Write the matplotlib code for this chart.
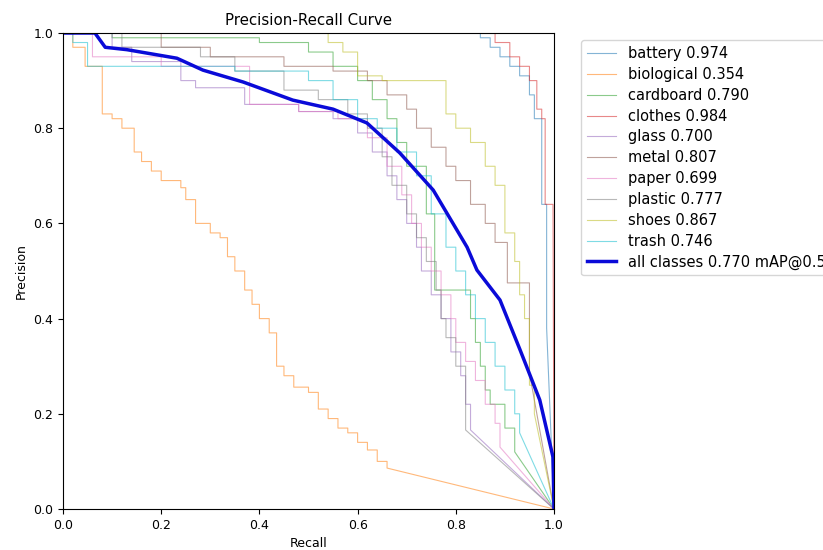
import matplotlib
matplotlib.use('Agg')
import matplotlib.pyplot as plt
import numpy as np

# per-class PR curves: recall knots and precision held until the next knot
names = ['battery', 'biological', 'cardboard', 'clothes', 'glass',
         'metal', 'paper', 'plastic', 'shoes', 'trash']
ap = [0.974, 0.354, 0.790, 0.984, 0.700, 0.807, 0.699, 0.777, 0.867, 0.746]

battery_r = [0, 0.85, 0.87, 0.89, 0.91, 0.93, 0.95, 0.96, 0.975, 0.985]
battery_p = [1, 0.99, 0.97, 0.95, 0.93, 0.91, 0.87, 0.82, 0.64, 0.38]

biological_r = [0, 0.02, 0.045, 0.08, 0.10, 0.12, 0.145, 0.16, 0.18, 0.20, 0.24, 0.25,
                0.27, 0.30, 0.32, 0.335, 0.35, 0.37, 0.385, 0.40, 0.42, 0.435, 0.45,
                0.47, 0.50, 0.52, 0.54, 0.56, 0.58, 0.60, 0.62, 0.64, 0.66]
biological_p = [1, 0.97, 0.93, 0.83, 0.82, 0.80, 0.75, 0.73, 0.71, 0.69, 0.675, 0.65,
                0.60, 0.58, 0.57, 0.53, 0.50, 0.46, 0.43, 0.40, 0.37, 0.30, 0.28,
                0.256, 0.245, 0.21, 0.19, 0.17, 0.16, 0.14, 0.124, 0.10, 0.086]

cardboard_r = [0, 0.10, 0.40, 0.50, 0.55, 0.60, 0.63, 0.66, 0.68, 0.70, 0.74, 0.757,
               0.83, 0.84, 0.85, 0.86, 0.87, 0.90, 0.92]
cardboard_p = [1, 0.99, 0.98, 0.96, 0.93, 0.90, 0.86, 0.82, 0.77, 0.72, 0.62, 0.46,
               0.40, 0.35, 0.30, 0.25, 0.22, 0.17, 0.12]

clothes_r = [0, 0.88, 0.91, 0.93, 0.95, 0.965, 0.975, 0.982, 0.998]
clothes_p = [1, 0.98, 0.95, 0.93, 0.90, 0.84, 0.82, 0.64, 0.64]

glass_r = [0, 0.10, 0.14, 0.24, 0.27, 0.37, 0.48, 0.55, 0.60, 0.63, 0.66, 0.68, 0.70,
           0.72, 0.73, 0.75, 0.77, 0.79, 0.81, 0.82, 0.83]
glass_p = [1, 0.97, 0.94, 0.90, 0.885, 0.85, 0.835, 0.82, 0.79, 0.75, 0.70, 0.65, 0.60,
           0.55, 0.50, 0.45, 0.40, 0.33, 0.28, 0.22, 0.166]

metal_r = [0, 0.20, 0.30, 0.45, 0.55, 0.62, 0.66, 0.70, 0.72, 0.75, 0.78, 0.80, 0.83,
           0.86, 0.88, 0.905, 0.95]
metal_p = [1, 0.97, 0.95, 0.93, 0.92, 0.90, 0.87, 0.84, 0.80, 0.76, 0.72, 0.69, 0.64,
           0.60, 0.56, 0.475, 0.286]

paper_r = [0, 0.06, 0.20, 0.38, 0.48, 0.56, 0.62, 0.66, 0.69, 0.71, 0.73, 0.75, 0.77,
           0.79, 0.80, 0.82, 0.84, 0.86, 0.88, 0.89]
paper_p = [1, 0.95, 0.93, 0.85, 0.835, 0.82, 0.78, 0.72, 0.66, 0.60, 0.55, 0.50, 0.45,
           0.40, 0.35, 0.31, 0.27, 0.22, 0.18, 0.13]

plastic_r = [0, 0.12, 0.28, 0.35, 0.45, 0.52, 0.58, 0.62, 0.65, 0.67, 0.70, 0.72, 0.74,
             0.76, 0.77, 0.78, 0.80, 0.82]
plastic_p = [1, 0.97, 0.95, 0.92, 0.88, 0.86, 0.83, 0.80, 0.74, 0.68, 0.62, 0.57, 0.52,
             0.46, 0.40, 0.36, 0.30, 0.166]

shoes_r = [0, 0.54, 0.57, 0.60, 0.64, 0.65, 0.76, 0.78, 0.80, 0.83, 0.86, 0.88, 0.90,
           0.92, 0.93, 0.94, 0.95, 0.96]
shoes_p = [1, 0.98, 0.96, 0.91, 0.91, 0.90, 0.90, 0.83, 0.80, 0.77, 0.72, 0.68, 0.58,
           0.52, 0.45, 0.40, 0.26, 0.20]

trash_r = [0, 0.02, 0.05, 0.35, 0.50, 0.55, 0.60, 0.64, 0.68, 0.72, 0.75, 0.78, 0.80,
           0.82, 0.84, 0.86, 0.88, 0.90, 0.92, 0.93]
trash_p = [1, 0.98, 0.93, 0.92, 0.90, 0.86, 0.82, 0.80, 0.75, 0.70, 0.62, 0.55, 0.50,
           0.45, 0.40, 0.35, 0.30, 0.25, 0.20, 0.16]

# mean over classes
all_r = [0, 0.065, 0.086, 0.13, 0.232, 0.285, 0.367, 0.468, 0.55, 0.619, 0.686, 0.754,
         0.823, 0.843, 0.89, 0.931, 0.971, 0.998, 1.0]
all_p = [1, 1, 0.97, 0.965, 0.947, 0.922, 0.897, 0.859, 0.84, 0.811, 0.748, 0.670,
         0.55, 0.502, 0.439, 0.334, 0.229, 0.109, 0.0]
all_map = 0.770

curves = [(battery_r, battery_p), (biological_r, biological_p), (cardboard_r, cardboard_p),
          (clothes_r, clothes_p), (glass_r, glass_p), (metal_r, metal_p),
          (paper_r, paper_p), (plastic_r, plastic_p), (shoes_r, shoes_p),
          (trash_r, trash_p)]


def stair(r, p):
    xs, ys = [r[0]], [p[0]]
    for i in range(1, len(r)):
        xs += [r[i], r[i]]
        ys += [p[i - 1], p[i]]
    # tail goes straight to (1, 0)
    xs.append(1.0)
    ys.append(0.0)
    return xs, ys


plt.rcParams['font.size'] = 9
fig = plt.figure(figsize=(8.23, 5.5), dpi=100)
ax = fig.add_axes([63 / 823, 41 / 550, 491 / 823, 476 / 550])

colors = plt.get_cmap('tab10').colors
for i, (r, p) in enumerate(curves):
    xs, ys = stair(r, p)
    ax.plot(xs, ys, linewidth=0.8, color=colors[i], alpha=0.55,
            label=f'{names[i]} {ap[i]:.3f}')

ax.plot(all_r, all_p, linewidth=2.5, color='#0a0ad8',
        label=f'all classes {all_map:.3f} mAP@0.5')

ax.set_xlabel('Recall')
ax.set_ylabel('Precision')
ax.set_xlim(0, 1)
ax.set_ylim(0, 1)
ax.set_title('Precision-Recall Curve')
ax.legend(bbox_to_anchor=(1.04, 1), loc='upper left', fontsize=10.5, labelspacing=0.4)

fig.savefig('out.png', dpi=100)
